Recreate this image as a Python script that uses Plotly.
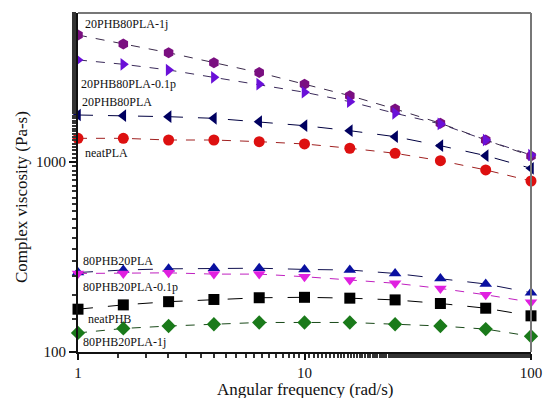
import numpy as np
import plotly.graph_objects as go

# Angular frequency sweep (rad/s), five points per decade
freq = [1, 1.585, 2.512, 3.981, 6.31, 10, 15.85, 25.12, 39.81, 63.1, 100]

# Complex viscosity (Pa-s) for each blend
eta_20phb80pla_1j = [4656, 4180, 3758, 3333, 2953, 2566, 2234, 1901, 1599, 1305, 1075]
eta_20phb80pla_01p = [3444, 3267, 3049, 2790, 2566, 2328, 2077, 1804, 1585, 1305, 1088]
eta_20phb80pla = [1767, 1752, 1731, 1697, 1630, 1552, 1461, 1359, 1218, 1080, 926]
eta_neatpla = [1332, 1332, 1305, 1305, 1279, 1244, 1181, 1111, 1016, 908, 794]
eta_80phb20pla = [262, 270, 274, 276, 276, 272, 270, 259, 244, 228, 205]
eta_80phb20pla_01p = [259, 259, 261, 257, 257, 249, 239, 230, 216, 200, 183]
eta_neatphb = [168, 177, 184, 189, 193, 194, 192, 188, 180, 170, 155]
eta_80phb20pla_1j = [126, 133, 137, 140, 143, 143, 143, 140, 137, 132, 121]

series = [
    ("20PHB80PLA-1j", eta_20phb80pla_1j, "hexagon", "#7a0f80", "#3a2a4a", "dash"),
    ("20PHB80PLA-0.1p", eta_20phb80pla_01p, "triangle-right", "#6a10d8", "#3a2a5a", "dash"),
    ("20PHB80PLA", eta_20phb80pla, "triangle-left", "#000060", "#000040", "longdash"),
    ("neatPLA", eta_neatpla, "circle", "#dd1010", "#a02020", "dash"),
    ("80PHB20PLA", eta_80phb20pla, "triangle-up", "#0a10a0", "#101050", "longdash"),
    ("80PHB20PLA-0.1p", eta_80phb20pla_01p, "triangle-down", "#e020e0", "#c020c0", "dash"),
    ("neatPHB", eta_neatphb, "square", "#000000", "#000000", "longdash"),
    ("80PHB20PLA-1j", eta_80phb20pla_1j, "diamond", "#1a7a1a", "#1a4a1a", "dash"),
]

fig = go.Figure()
for name, vals, sym, mcol, lcol, dash in series:
    fig.add_trace(go.Scatter(
        x=freq, y=vals, mode="lines+markers", name=name,
        line=dict(color=lcol, width=1, dash=dash),
        marker=dict(symbol=sym, size=11, color=mcol, line=dict(width=0)),
        cliponaxis=False,
    ))

SERIF = "Liberation Serif, Times New Roman, serif"
L, R, T, B = 78, 531, 13, 352


def to_paper(px, py):
    return (px - L) / (R - L), (B - py) / (B - T)


# Curve labels placed beside the left axis
labels = [
    ("20PHB80PLA-1j", 83, 24),
    ("20PHB80PLA-0.1p", 79, 84),
    ("20PHB80PLA", 80, 102),
    ("neatPLA", 83, 153),
    ("80PHB20PLA", 81, 261),
    ("80PHB20PLA-0.1p", 81, 287),
    ("neatPHB", 86, 319),
    ("80PHB20PLA-1j", 81, 342),
]
for text, px, py in labels:
    x, y = to_paper(px, py)
    fig.add_annotation(
        x=x, y=y, xref="paper", yref="paper",
        text=text, showarrow=False, xanchor="left", yanchor="middle",
        font=dict(family=SERIF, size=12, color="#111111"),
    )

# Axis titles
title_font = dict(family=SERIF, size=17, color="#111111")
x, y = to_paper(305, 389)
fig.add_annotation(x=x, y=y, xref="paper", yref="paper", text="Angular frequency (rad/s)",
                   showarrow=False, xanchor="center", yanchor="middle", font=title_font)
x, y = to_paper(21, 197)
fig.add_annotation(x=x, y=y, xref="paper", yref="paper", text="Complex viscosity (Pa-s)",
                   showarrow=False, xanchor="center", yanchor="middle", textangle=-90,
                   font=title_font)

axis_font = dict(family=SERIF, size=15, color="#111111")
fig.update_xaxes(
    type="log", range=[0, 2], automargin=False,
    tickvals=[1, 10, 100], ticktext=["1", "10", "100"],
    ticks="outside", ticklen=6, tickwidth=1.5, tickcolor="#111111",
    minor=dict(ticks="outside", ticklen=4, tickcolor="#333333", showgrid=False),
    showline=True, linecolor="#111111", linewidth=2, mirror=False,
    showgrid=False, zeroline=False, tickfont=axis_font,
)
fig.update_yaxes(
    type="log", range=[2, 3.784], automargin=False,
    tickvals=[100, 1000], ticktext=["100", "1000"],
    ticks="outside", ticklen=7, tickwidth=1.5, tickcolor="#111111",
    minor=dict(ticks="outside", ticklen=4, tickcolor="#333333", showgrid=False),
    showline=True, linecolor="#111111", linewidth=2, mirror=False,
    showgrid=False, zeroline=False, tickfont=axis_font,
)

# Light grey frame along the top and right edges
fig.add_shape(type="line", xref="paper", yref="paper", x0=0, x1=1, y0=1, y1=1,
              line=dict(color="#777777", width=2))
fig.add_shape(type="line", xref="paper", yref="paper", x0=1, x1=1, y0=0, y1=1,
              line=dict(color="#777777", width=2))

fig.update_layout(
    width=543, height=398,
    margin=dict(l=L, r=543 - R, t=T, b=398 - B),
    plot_bgcolor="white", paper_bgcolor="white",
    showlegend=False,
)

fig.write_html("out.html")
